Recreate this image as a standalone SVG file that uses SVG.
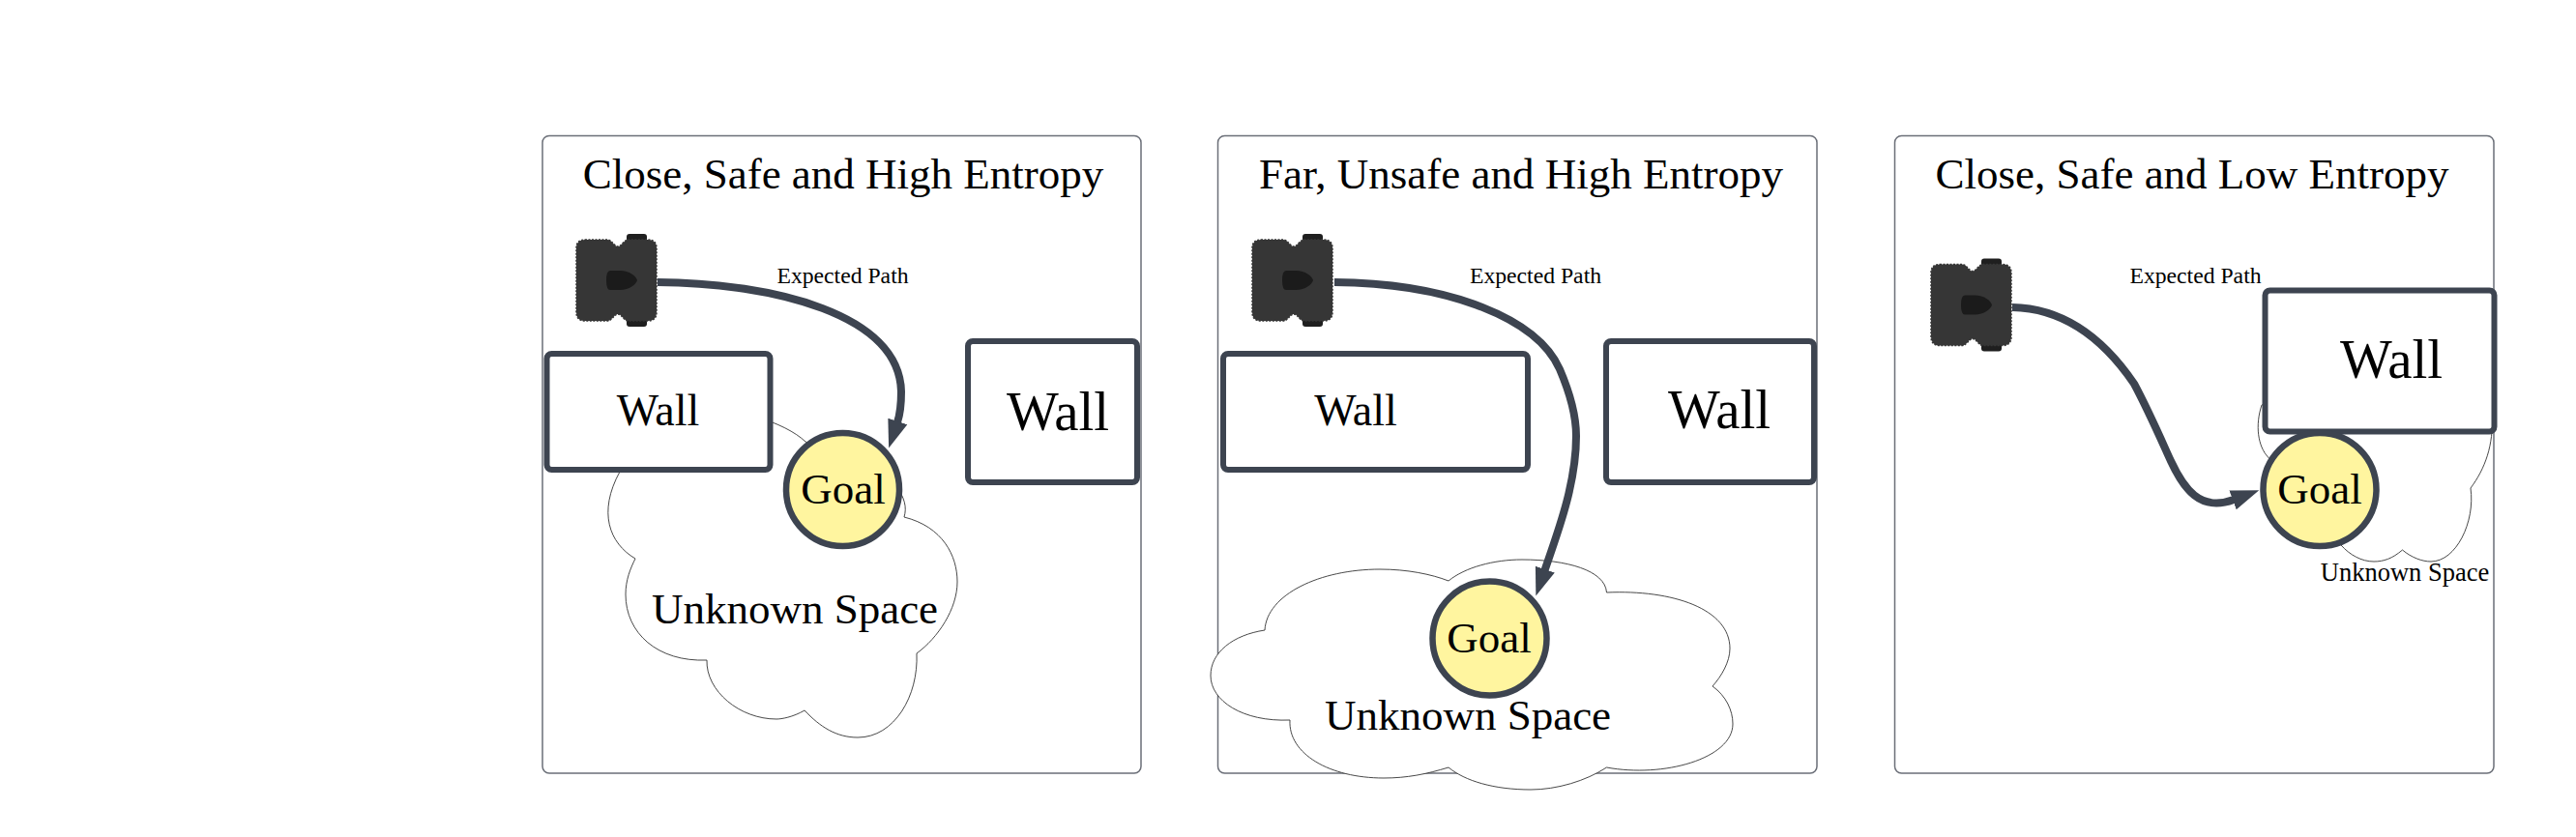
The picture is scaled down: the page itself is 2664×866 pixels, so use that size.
<svg xmlns="http://www.w3.org/2000/svg" xmlns:xlink="http://www.w3.org/1999/xlink" width="2664" height="866" viewBox="0 0 2664 866">
<style>
text{font-family:"Liberation Serif","Times New Roman",serif;fill:#000;text-anchor:middle}
.t{font-size:45px}.w{font-size:46px}.W{font-size:57px}.g{font-size:45px}.u{font-size:45px}.s{font-size:26.500px}.e{font-size:23.700px}
.panel{fill:#fff;stroke:#6b6f78;stroke-width:1.500}
.wall{fill:#fff;stroke:#3d4450;stroke-width:6}
.goal{fill:#fff59f;stroke:#3d4450;stroke-width:6.500}
.cloud{fill:#fff;stroke:#333;stroke-width:0.900}
.path{fill:none;stroke:#3d4450;stroke-width:8;marker-end:url(#head)}
</style>
<defs>
<marker id="head" markerUnits="userSpaceOnUse" markerWidth="34" markerHeight="28" refX="1" refY="14" orient="auto">
<path d="M0 3.500 L29 14 L0 24.500 Z" fill="#3d4450"/>
</marker>
<g id="robot">
<rect x="53" y="0" width="21" height="8" rx="3" fill="#1f1f1f"/>
<rect x="53" y="88" width="21" height="8" rx="3" fill="#1f1f1f"/>
<path d="M10 6H33C38 6 40 13 44 13C48 13 50 6 55 6H75Q84 6 84 15V81Q84 90 75 90H55C50 90 48 83 44 83C40 83 38 90 33 90H10Q1 90 1 81V15Q1 6 10 6Z" fill="#363636" stroke="#363636" stroke-width="1.500" stroke-dasharray="2 1.500"/>
<path d="M36 38H46C56 38 63 44 64 48C63 52 56 58 46 58H36Q32 58 32 48Q32 38 36 38Z" fill="#1b1b1b"/>
</g>
</defs>
<rect width="2664" height="866" fill="#fff"/>

<g id="panel-1">
<rect class="panel" x="561" y="140.500" width="619" height="659.500" rx="7"/>
<text class="t" x="872" y="195">Close, Safe and High Entropy</text>
</g>
<g id="cloud-1"><path class="cloud" d="M657 578C630 562 618 530 641 488L700 420C760 420 812 437 833 457L925 500C936 515 938 525 935 535C975 545 990 575 990 602C990 630 970 660 948 676C950 720 925 763 887 763C865 763 848 752 832 735C820 742 808 744 803 744C765 744 730 715 731 683C680 685 647 655 647 615C647 600 652 588 657 578Z"/><text class="u" x="822" y="645">Unknown Space</text></g>
<g id="wall-1a"><rect class="wall" x="565.500" y="366" width="231" height="120" rx="5"/><text class="w" x="680.500" y="440">Wall</text></g>
<g id="wall-1b"><rect class="wall" x="1001" y="353" width="175" height="146" rx="5"/><text class="W" x="1094" y="445">Wall</text></g>
<g id="goal-1"><circle class="goal" cx="871.500" cy="506.500" r="58.500"/><text class="g" x="872" y="521">Goal</text></g>
<g id="robot-1"><use xlink:href="#robot" href="#robot" x="595" y="242"/></g>
<text class="e" x="871.500" y="293">Expected Path</text>

<g id="panel-2">
<rect class="panel" x="1259.500" y="140.500" width="619.500" height="659.500" rx="7"/>
<text class="t" x="1573" y="195">Far, Unsafe and High Entropy</text>
</g>
<g id="cloud-2"><path class="cloud" d="M1308 652C1310 615 1365 589 1427 589C1455 589 1480 594 1498 601C1515 587 1545 579 1574 579C1620 579 1660 590 1661.500 613C1730 610 1789 630 1789 671C1789 685 1780 700 1771 710C1785 720 1792 735 1792 749C1792 785 1720 805 1661.500 794C1640 808 1610 817 1583 817C1545 817 1515 808 1498 794C1475 801 1455 805 1431 805C1375 805 1332 780 1334 745C1285 747 1252 725 1252 699C1252 675 1275 657 1308 652Z"/><text class="u" x="1518" y="755">Unknown Space</text></g>
<g id="wall-2a"><rect class="wall" x="1265" y="366" width="315" height="120" rx="5"/><text class="w" x="1402" y="440">Wall</text></g>
<g id="wall-2b"><rect class="wall" x="1661" y="353" width="215" height="146" rx="5"/><text class="W" x="1778" y="443">Wall</text></g>
<g id="goal-2"><circle class="goal" cx="1540.500" cy="660.500" r="59"/><text class="g" x="1540" y="675">Goal</text></g>
<g id="robot-2"><use xlink:href="#robot" href="#robot" x="1294" y="242"/></g>
<text class="e" x="1588" y="293">Expected Path</text>

<g id="panel-3">
<rect class="panel" x="1959.500" y="140.500" width="619.500" height="659.500" rx="7"/>
<text class="t" x="2267" y="195">Close, Safe and Low Entropy</text>
</g>
<g id="cloud-3"><path class="cloud" d="M2345.600 473C2335 462 2332 440 2339 419L2400 400L2577 430C2579 460 2570 485 2555 505C2560 540 2540 581 2514 581C2505 581 2494 577 2484.500 569C2474 578 2465 581 2455 581C2442 581 2430 574 2421 564Z"/><text class="s" x="2487" y="601">Unknown Space</text></g>
<g id="wall-3"><rect class="wall" x="2342.500" y="300.500" width="237" height="146" rx="5"/><text class="W" x="2473" y="391">Wall</text></g>
<g id="goal-3"><circle class="goal" cx="2399" cy="506.500" r="58.500"/><text class="g" x="2399" y="521">Goal</text></g>
<g id="robot-3"><use xlink:href="#robot" href="#robot" x="1996" y="267.500"/></g>
<text class="e" x="2270.500" y="293">Expected Path</text>

<g id="connectors">
<path class="path" d="M680 292C800 293 930 325 932 405C932 418 931 428 928 437"/>
<path class="path" d="M1380 292C1500 293 1590 330 1613 382C1625 410 1630 430 1630 451C1630 500 1612 548 1597.500 590"/>
<path class="path" d="M2081 318C2135 319 2175 350 2207 397C2222 425 2235 455 2245 477C2258 505 2275 530 2310 517"/>
</g>
</svg>
